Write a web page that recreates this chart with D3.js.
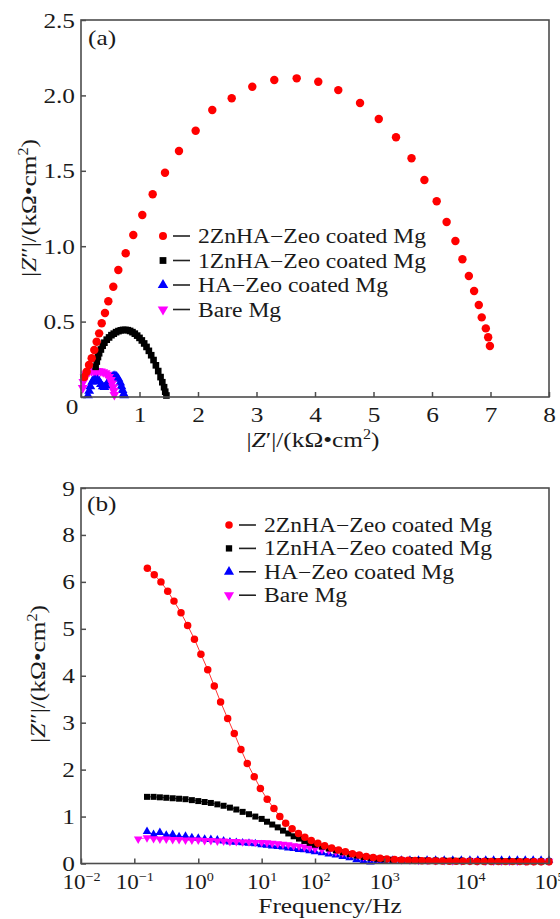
<!DOCTYPE html>
<html><head><meta charset="utf-8">
<script src="https://cdn.jsdelivr.net/npm/d3@7"></script>
<style>
body{margin:0;background:#fff;}
text{font-family:"Liberation Serif","Times New Roman",serif;fill:#1a1a1a;}
</style></head><body>
<svg id="c" width="560" height="919"></svg>
<script>
// ---------- data: panel (a) Nyquist ----------
const seriesNames = ["2ZnHA\u2212Zeo coated Mg","1ZnHA\u2212Zeo coated Mg","HA\u2212Zeo coated Mg","Bare Mg"];
const aXTicks = [0,1,2,3,4,5,6,7,8];
const aYTicks = [0,0.5,1,1.5,2,2.5];
const aRedX = [0.056,0.097,0.137,0.183,0.227,0.268,0.31,0.354,0.41,0.467,0.552,0.638,0.764,0.894,1.048,1.225,1.436,1.675,1.96,2.244,2.576,2.928,3.304,3.687,4.056,4.398,4.77,5.09,5.385,5.65,5.87,6.08,6.25,6.40,6.52,6.63,6.72,6.80,6.85,6.92,6.96,6.99];
const aRedY = [0.133,0.168,0.212,0.257,0.312,0.367,0.422,0.489,0.557,0.635,0.731,0.842,0.953,1.074,1.207,1.344,1.487,1.631,1.766,1.903,1.981,2.058,2.102,2.113,2.091,2.035,1.95,1.843,1.722,1.583,1.439,1.298,1.16,1.034,0.913,0.802,0.703,0.61,0.528,0.455,0.396,0.338];
const aBlackX = [0.25,0.27,0.29,0.31,0.34,0.37,0.40,0.44,0.48,0.52,0.56,0.60,0.64,0.68,0.72,0.76,0.80,0.84,0.88,0.92,0.96,1.00,1.04,1.08,1.12,1.16,1.20,1.24,1.28,1.32,1.36,1.39,1.42,1.44,1.46];
const aBlackY = [0.20,0.235,0.265,0.29,0.315,0.34,0.36,0.38,0.395,0.41,0.42,0.43,0.437,0.442,0.445,0.445,0.443,0.438,0.43,0.42,0.407,0.392,0.375,0.355,0.332,0.306,0.277,0.245,0.21,0.172,0.132,0.098,0.065,0.035,0.01];
const aBlueX = [0.12,0.14,0.16,0.19,0.22,0.25,0.28,0.31,0.34,0.37,0.40,0.43,0.46,0.49,0.52,0.55,0.58,0.61,0.64,0.67,0.69,0.71,0.73,0.74];
const aBlueY = [0.01,0.04,0.07,0.10,0.118,0.124,0.12,0.105,0.085,0.07,0.065,0.075,0.095,0.115,0.13,0.138,0.14,0.135,0.12,0.095,0.07,0.045,0.02,0.01];
const aPinkX = [0.03,0.04,0.06,0.08,0.11,0.14,0.18,0.22,0.26,0.30,0.34,0.38,0.42,0.45,0.48,0.51,0.53,0.55,0.56,0.57];
const aPinkY = [0.06,0.10,0.13,0.15,0.16,0.168,0.172,0.174,0.174,0.172,0.17,0.165,0.158,0.148,0.133,0.113,0.09,0.065,0.04,0.015];

// ---------- data: panel (b) Bode |Z''| vs frequency ----------
const bXTickExp = [-2,-1,0,1,2,3,4,5];
const bYTickLabels = ["0","1","2","3","4","5","6","8","9"];
const bFreq = [0.158,0.200,0.251,0.316,0.398,0.501,0.631,0.794,
  1.00,1.26,1.58,2.00,2.51,3.16,3.98,5.01,6.31,7.94,
  10.0,12.6,15.8,20.0,25.1,31.6,39.8,50.1,63.1,79.4,
  100,126,158,200,251,316,398,501,631,794,
  1000,1259,1585,1995,2512,3162,3981,5012,6310,7943,
  10000,12589,15849,19953,25119,31623,39811,50119,63096,79433,
  100000];
const bRedFreq = [0.160,0.205,0.261,0.333,0.417,0.537,0.682,0.871,1.10,1.41,1.79,2.25,2.91,3.70,4.71,5.93,7.64,9.55,12.7,17.0,21.9,28.2,37.2,49.0,64.6,85.1,110,138,174,219,275,347,437,550,692,871,1072,1318,1585,1905,2291,2754,3311,3981,4786,5754,6918,8318,10000,12303,15136,18621,22909,28184,34674,42658,52481,64565,79433,100000];
const bRed = [6.29,6.15,6.00,5.80,5.59,5.34,5.07,4.78,4.46,4.13,3.78,3.44,3.09,2.77,2.43,2.13,1.85,1.60,1.37,1.17,1.00,0.86,0.74,0.64,0.56,0.49,0.43,0.38,0.33,0.29,0.25,0.21,0.18,0.15,0.13,0.11,0.095,0.085,0.075,0.07,0.065,0.06,0.06,0.055,0.055,0.05,0.05,0.05,0.05,0.045,0.045,0.045,0.04,0.04,0.04,0.04,0.035,0.035,0.035,0.035];
const bBlack = [1.42,1.42,1.41,1.40,1.39,1.38,1.37,1.35,
  1.33,1.31,1.29,1.26,1.23,1.19,1.15,1.10,1.05,1.00,
  0.95,0.89,0.83,0.77,0.70,0.64,0.58,0.53,0.48,0.44,
  0.40,0.36,0.32,0.28,0.24,0.20,0.17,0.14,0.12,0.10,
  0.09,0.08,0.075,0.07,0.07,0.065,0.065,0.06,0.06,0.06,
  0.055,0.055,0.055,0.05,0.05,0.05,0.05,0.045,0.045,0.045,
  0.045];
const bBlue = [0.68,0.62,0.66,0.60,0.62,0.57,0.58,0.55,
  0.54,0.52,0.51,0.50,0.48,0.46,0.45,0.44,0.43,0.42,
  0.40,0.39,0.37,0.36,0.35,0.33,0.32,0.30,0.29,0.27,
  0.25,0.23,0.20,0.18,0.15,0.12,0.08,0.05,0.03,0.04,
  0.06,0.07,0.07,0.07,0.07,0.07,0.07,0.07,0.07,0.07,
  0.07,0.07,0.07,0.07,0.07,0.07,0.07,0.07,0.07,0.07,
  0.07];
const bPinkFreq = [0.115].concat(bFreq);
const bPink = [0.52,
  0.55,0.53,0.52,0.52,0.51,0.51,0.50,0.50,
  0.50,0.49,0.49,0.48,0.48,0.47,0.47,0.46,0.46,0.45,
  0.45,0.44,0.43,0.42,0.41,0.40,0.38,0.37,0.35,0.34,
  0.32,0.30,0.28,0.25,0.23,0.20,0.18,0.15,0.13,0.11,
  0.10,0.09,0.08,0.075,0.07,0.07,0.065,0.065,0.06,0.06,
  0.06,0.06,0.055,0.055,0.055,0.055,0.05,0.05,0.05,0.05,
  0.05];

// ---------- styles ----------
const colors = ["#ff0000","#000000","#0000ff","#ff00ff"];
const shapes = ["circle","square","up","down"];
const FS = 22, K = 1.15, AX = "#4d4d4d";
const svg = d3.select("#c");

function widen(sel, k){
  const kk = k || K;
  sel.each(function(){
    const L = this.getComputedTextLength();
    if (L > 0) d3.select(this).attr("textLength", L*kk).attr("lengthAdjust","spacingAndGlyphs");
  });
}
function symPath(shape, size){
  const t = shape==="circle"?d3.symbolCircle:shape==="square"?d3.symbolSquare:d3.symbolTriangle;
  return d3.symbol().type(t).size(size)();
}
function drawMarkers(g, pts, shape, color, size){
  g.selectAll(null).data(pts).join("path")
    .attr("d", symPath(shape,size))
    .attr("transform", d => `translate(${d[0]},${d[1]})` + (shape==="down"?" rotate(180)":""))
    .attr("fill", color);
}
function styleAxis(g){
  g.attr("font-family", null).attr("font-size", FS);
  g.select(".domain").remove();
  g.selectAll(".tick line").attr("stroke", AX).attr("stroke-width", 1.5);
  g.selectAll(".tick text").attr("fill", "#1a1a1a");
}
function zTitle(parent, prime){
  const t = parent.append("text").attr("font-size", FS);
  t.append("tspan").text("|");
  t.append("tspan").attr("font-style","italic").text("Z");
  t.append("tspan").text(prime + "|/(k\u03A9\u2022cm");
  t.append("tspan").attr("font-size", 14).attr("dy", -8).text("2");
  t.append("tspan").attr("dy", 8).text(")");
  return t;
}
function legend(g, x0, y0, step, sizes){
  seriesNames.forEach((name, i) => {
    const y = y0 + i*step;
    drawMarkers(g, [[x0, y]], shapes[i], colors[i], sizes[i]);
    g.append("line").attr("x1", x0+10).attr("x2", x0+27).attr("y1", y).attr("y2", y)
      .attr("stroke", "#222").attr("stroke-width", 1.6);
    const t = g.append("text").attr("x", x0+35).attr("y", y+7).attr("font-size", 20.5).text(name);
    widen(t);
  });
}

// ================= Panel (a) =================
const A = {l:81, r:549, t:20, b:397};
const xA = d3.scaleLinear().domain([0,8]).range([A.l, A.r]);
const yA = d3.scaleLinear().domain([0,2.5]).range([A.b, A.t]);
const gA = svg.append("g");

const aSeries = [
  [aBlueX, aBlueY, 2, 42],
  [aPinkX, aPinkY, 3, 42],
  [aBlackX, aBlackY, 1, 44],
  [aRedX, aRedY, 0, 56]
];
aSeries.forEach(([xs, ys, ci, sz]) => {
  const pts = xs.map((x,i) => [xA(x), yA(ys[i])]);
  drawMarkers(gA.append("g"), pts, shapes[ci], colors[ci], sz);
});

const axAx = gA.append("g").attr("transform", `translate(0,${A.b})`)
  .call(d3.axisBottom(xA).tickValues(aXTicks).tickSize(-5).tickPadding(9).tickFormat(d => d===0 ? "" : String(d)));
styleAxis(axAx); widen(axAx.selectAll(".tick text"));
const axAy = gA.append("g").attr("transform", `translate(${A.l},0)`)
  .call(d3.axisLeft(yA).tickValues(aYTicks).tickSize(-5).tickPadding(6).tickFormat(d => d===0 ? "" : d3.format(".1f")(d)));
styleAxis(axAy); widen(axAy.selectAll(".tick text"));
widen(gA.append("text").attr("x", A.l-9).attr("y", A.b+17).attr("text-anchor","middle").attr("font-size", FS).text("0"));

gA.append("rect").attr("x", A.l).attr("y", A.t).attr("width", A.r-A.l).attr("height", A.b-A.t)
  .attr("fill","none").attr("stroke", AX).attr("stroke-width", 1.6);
widen(gA.append("text").attr("x", 88).attr("y", 45).attr("font-size", FS).text("(a)"));

legend(gA, 163, 236, 24.5, [50, 46, 48, 48]);

const tAx = zTitle(gA, "\u2032").attr("x", 313).attr("y", 447).attr("text-anchor","middle");
widen(tAx);
const tAy = zTitle(gA, "\u2033").attr("transform","translate(29,208) rotate(-90)").attr("y", 7).attr("text-anchor","middle");
widen(tAy);

// ================= Panel (b) =================
const B = {l:81, r:549, t:488, b:863.5};
const tickFrac = [0, 0.1139, 0.2506, 0.386, 0.5, 0.648, 0.831, 1];
const xB = d3.scaleLinear().domain(bXTickExp).range(tickFrac.map(f => B.l + f*(B.r-B.l)));
const xf = f => xB(Math.log10(f));
const yB = d3.scaleLinear().domain([0, bYTickLabels.length-1]).range([B.b, B.t]);
const gB = svg.append("g");

const bSeries = [
  [bFreq, bBlue, 2, 32],
  [bPinkFreq, bPink, 3, 32],
  [bFreq, bBlack, 1, 36],
  [bRedFreq, bRed, 0, 44]
];
bSeries.forEach(([fs, vs, ci, sz]) => {
  const pts = fs.map((f,i) => [xf(f), yB(vs[i])]);
  gB.append("path").datum(pts).attr("d", d3.line()).attr("fill","none")
    .attr("stroke", colors[ci]).attr("stroke-width", 1).attr("stroke-opacity", 0.8);
  drawMarkers(gB.append("g"), pts, shapes[ci], colors[ci], sz);
});

const axBx = gB.append("g").attr("transform", `translate(0,${B.b})`)
  .call(d3.axisBottom(xB).tickValues(bXTickExp).tickSize(-5).tickPadding(10).tickFormat(() => ""));
styleAxis(axBx);
axBx.selectAll(".tick text").each(function(e){
  const t = d3.select(this);
  t.append("tspan").text("10");
  t.append("tspan").attr("font-size", 13.5).attr("dy", -8).text(e < 0 ? "\u2212" + Math.abs(e) : String(e));
});
widen(axBx.selectAll(".tick text"), 1.05);
const axBy = gB.append("g").attr("transform", `translate(${B.l},0)`)
  .call(d3.axisLeft(yB).tickValues(d3.range(bYTickLabels.length)).tickSize(-5).tickPadding(6).tickFormat(i => bYTickLabels[i]));
styleAxis(axBy); widen(axBy.selectAll(".tick text"));

gB.append("rect").attr("x", B.l).attr("y", B.t).attr("width", B.r-B.l).attr("height", B.b-B.t)
  .attr("fill","none").attr("stroke", AX).attr("stroke-width", 1.6);
widen(gB.append("text").attr("x", 87).attr("y", 511).attr("font-size", FS).text("(b)"));

legend(gB, 229, 525, 23.4, [44, 40, 44, 44]);

widen(gB.append("text").attr("x", 330).attr("y", 913).attr("text-anchor","middle").attr("font-size", FS).text("Frequency/Hz"));
const tBy = zTitle(gB, "\u2033").attr("transform","translate(38,674) rotate(-90)").attr("y", 7).attr("text-anchor","middle");
widen(tBy);
</script>
</body></html>
